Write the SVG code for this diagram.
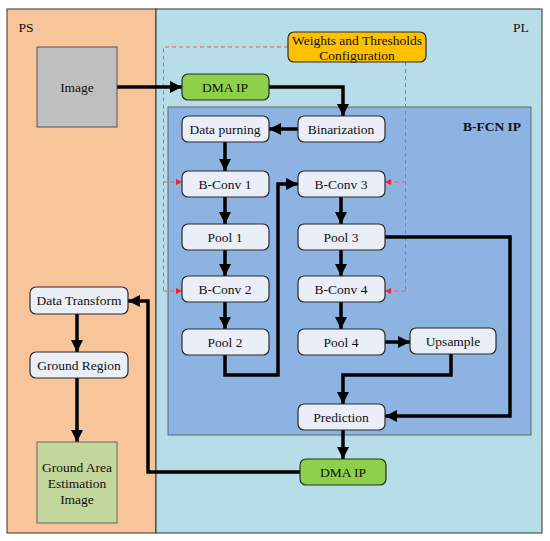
<svg xmlns="http://www.w3.org/2000/svg" width="550" height="541" viewBox="0 0 550 541">
<defs>
<marker id="ah" viewBox="0 0 12 12" refX="12" refY="6" markerWidth="13" markerHeight="12" markerUnits="userSpaceOnUse" orient="auto">
<path d="M0,0 L12,6 L0,12 Z" fill="#000"/>
</marker>
<marker id="rh" viewBox="0 0 10 10" refX="10" refY="5" markerWidth="6" markerHeight="6" markerUnits="userSpaceOnUse" orient="auto">
<path d="M0,0 L10,5 L0,10 Z" fill="#e8262c"/>
</marker>
<style>
text{font-size:13.5px;fill:#111;text-anchor:middle;dominant-baseline:central}
.node{fill:#e9eef7;stroke:#2b2b2b;stroke-width:1.2}
.dma{fill:#8fd04a;stroke:#2b2b2b;stroke-width:1.2}
.conn{fill:none;stroke:#000;stroke-width:3.5;marker-end:url(#ah)}
.dash{fill:none;stroke:#e0606e;stroke-width:1;stroke-dasharray:4,3}
.dasha{fill:none;stroke:#e0606e;stroke-width:1;stroke-dasharray:4,3;marker-end:url(#rh)}
</style>
</defs>
<rect x="0" y="0" width="550" height="541" fill="#fff"/>
<g font-family="'Liberation Serif', 'DejaVu Serif', serif">
<g id="panels">
<rect x="7" y="9" width="149" height="524" fill="#f8c59b" stroke="#333" stroke-width="1"/>
<rect x="156" y="9" width="386" height="524" fill="#b7dee8" stroke="#333" stroke-width="1"/>
<text x="26" y="27">PS</text>
<text x="521" y="27">PL</text>
</g>
<g id="bfcn">
<rect x="168" y="107" width="363" height="328" fill="#8db3e2" stroke="#666" stroke-width="1"/>
<text x="492" y="126" font-weight="bold">B-FCN IP</text>
</g>
<g id="config-lines">
<path class="dash" d="M288,47 H163.5 V291"/>
<path class="dasha" d="M163.5,182 H182"/>
<path class="dasha" d="M163.5,291 H182"/>
<path class="dash" d="M405.5,62 V291"/>
<path class="dasha" d="M405.5,182 H385"/>
<path class="dasha" d="M405.5,291 H385"/>
</g>
<g id="connectors">
<path class="conn" d="M117,87 H182"/>
<path class="conn" d="M269,87 H343 V116"/>
<path class="conn" d="M298,129 H269"/>
<path class="conn" d="M225,142 V171"/>
<path class="conn" d="M225,197 V224"/>
<path class="conn" d="M225,250 V276"/>
<path class="conn" d="M225,302 V329"/>
<path class="conn" d="M225,355 V375 H278 V184 H298"/>
<path class="conn" d="M341,197 V224"/>
<path class="conn" d="M341,250 V276"/>
<path class="conn" d="M341,302 V329"/>
<path class="conn" d="M385,342 H410"/>
<path class="conn" d="M451,354 V375 H343 V404"/>
<path class="conn" d="M385,237 H510 V416 H385"/>
<path class="conn" d="M343,430 V459"/>
<path class="conn" d="M300,472 H148 V301 H128"/>
<path class="conn" d="M77,314 V352"/>
<path class="conn" d="M77,378 V442"/>
</g>
<g id="image"><rect x="37" y="47" width="80" height="80" fill="#bfbfbf" stroke="#555" stroke-width="1"/><text x="77" y="87">Image</text></g>
<g id="weights"><rect x="288" y="32" width="138" height="30" rx="6" fill="#ffc000" stroke="#2b2b2b" stroke-width="1.2"/><text x="357" y="40">Weights and Thresholds</text><text x="357" y="55">Configuration</text></g>
<g id="dma1"><rect class="dma" x="182" y="74" width="87" height="26" rx="6"/><text x="225" y="87">DMA IP</text></g>
<g id="binarization"><rect class="node" x="298" y="116" width="87" height="26" rx="6"/><text x="341" y="129">Binarization</text></g>
<g id="purning"><rect class="node" x="182" y="116" width="87" height="26" rx="6"/><text x="225" y="129">Data purning</text></g>
<g id="bconv1"><rect class="node" x="182" y="171" width="87" height="26" rx="6"/><text x="225" y="184">B-Conv 1</text></g>
<g id="pool1"><rect class="node" x="182" y="224" width="87" height="26" rx="6"/><text x="225" y="237">Pool 1</text></g>
<g id="bconv2"><rect class="node" x="182" y="276" width="87" height="26" rx="6"/><text x="225" y="289">B-Conv 2</text></g>
<g id="pool2"><rect class="node" x="182" y="329" width="87" height="26" rx="6"/><text x="225" y="342">Pool 2</text></g>
<g id="bconv3"><rect class="node" x="298" y="171" width="87" height="26" rx="6"/><text x="341" y="184">B-Conv 3</text></g>
<g id="pool3"><rect class="node" x="298" y="224" width="87" height="26" rx="6"/><text x="341" y="237">Pool 3</text></g>
<g id="bconv4"><rect class="node" x="298" y="276" width="87" height="26" rx="6"/><text x="341" y="289">B-Conv 4</text></g>
<g id="pool4"><rect class="node" x="298" y="329" width="87" height="26" rx="6"/><text x="341" y="342">Pool 4</text></g>
<g id="upsample"><rect class="node" x="410" y="328" width="86" height="26" rx="6"/><text x="453" y="341">Upsample</text></g>
<g id="prediction"><rect class="node" x="298" y="404" width="87" height="26" rx="6"/><text x="341" y="417">Prediction</text></g>
<g id="dma2"><rect class="dma" x="300" y="459" width="86" height="26" rx="6"/><text x="343" y="472">DMA IP</text></g>
<g id="transform"><rect class="node" x="30" y="287" width="98" height="27" rx="6"/><text x="79" y="300">Data Transform</text></g>
<g id="ground"><rect class="node" x="30" y="352" width="98" height="26" rx="6"/><text x="79" y="365">Ground Region</text></g>
<g id="estimation"><rect x="37" y="442" width="80" height="81" fill="#c3d69b" stroke="#666" stroke-width="1"/><text x="77" y="467">Ground Area</text><text x="77" y="483">Estimation</text><text x="77" y="499">Image</text></g>
</g>
</svg>
